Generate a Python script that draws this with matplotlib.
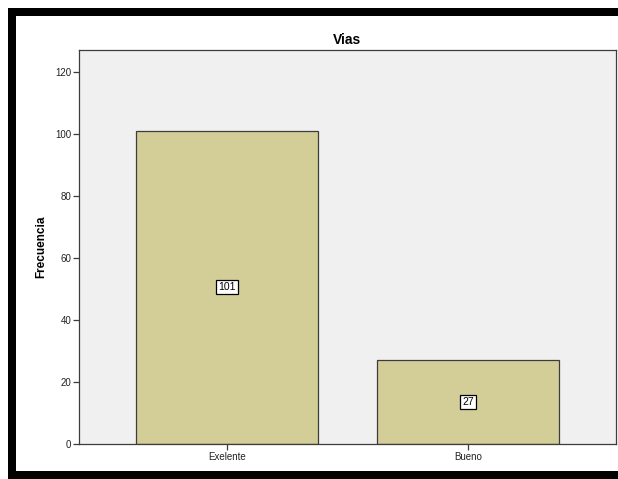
import matplotlib
matplotlib.use('Agg')
import matplotlib.pyplot as plt
from matplotlib.patches import Rectangle

plt.rcParams['font.family'] = ['Liberation Sans', 'DejaVu Sans']

# data
categorias = ['Exelente', 'Bueno']
frecuencias = [101, 27]
y_ticks = [0, 20, 40, 60, 80, 100, 120]

fig = plt.figure(figsize=(6.18, 4.79), dpi=100)
fig.patch.set_facecolor('white')

# black frame (left, top, bottom) like the screenshot
W, H = 618, 479
for (x, y, w, h) in [(8, 8, 8, 471), (8, 8, 610, 8), (8, 471, 610, 8)]:
    fig.patches.append(Rectangle((x / W, 1 - (y + h) / H), w / W, h / H,
                                 transform=fig.transFigure, facecolor='black',
                                 edgecolor='none', zorder=10))

ax = fig.add_axes([79 / W, 1 - 444 / H, (616 - 79) / W, (444 - 50) / H])
ax.set_facecolor('#F0F0F0')

pos = list(range(len(categorias)))
ax.bar(pos, frecuencias, width=0.755, color='#D3CE97', edgecolor='#3c3c3c',
       linewidth=0.9, zorder=2)

for p, v in zip(pos, frecuencias):
    ax.text(p, v / 2, str(v), ha='center', va='center', fontsize=7.5,
            color='black', zorder=3,
            bbox=dict(boxstyle='square,pad=0.2', facecolor='white',
                      edgecolor='black', linewidth=0.9))

ax.set_xlim(-0.614, 1.614)
ax.set_ylim(0, 127)
ax.set_xticks(pos)
ax.set_xticklabels(categorias, fontsize=7, color='#222222')
ax.set_yticks(y_ticks)
ax.set_yticklabels([str(t) for t in y_ticks], fontsize=7, color='#222222')
ax.tick_params(axis='both', direction='out', length=4, width=0.9,
               color='#3c3c3c', pad=1.5)

for s in ax.spines.values():
    s.set_color('#3c3c3c')
    s.set_linewidth(0.9)

ax.set_ylabel('Frecuencia', fontsize=8.5, fontweight='bold', labelpad=6)
ax.set_title('Vias', fontsize=10, fontweight='bold', pad=4)

fig.savefig('out.png', dpi=100)
